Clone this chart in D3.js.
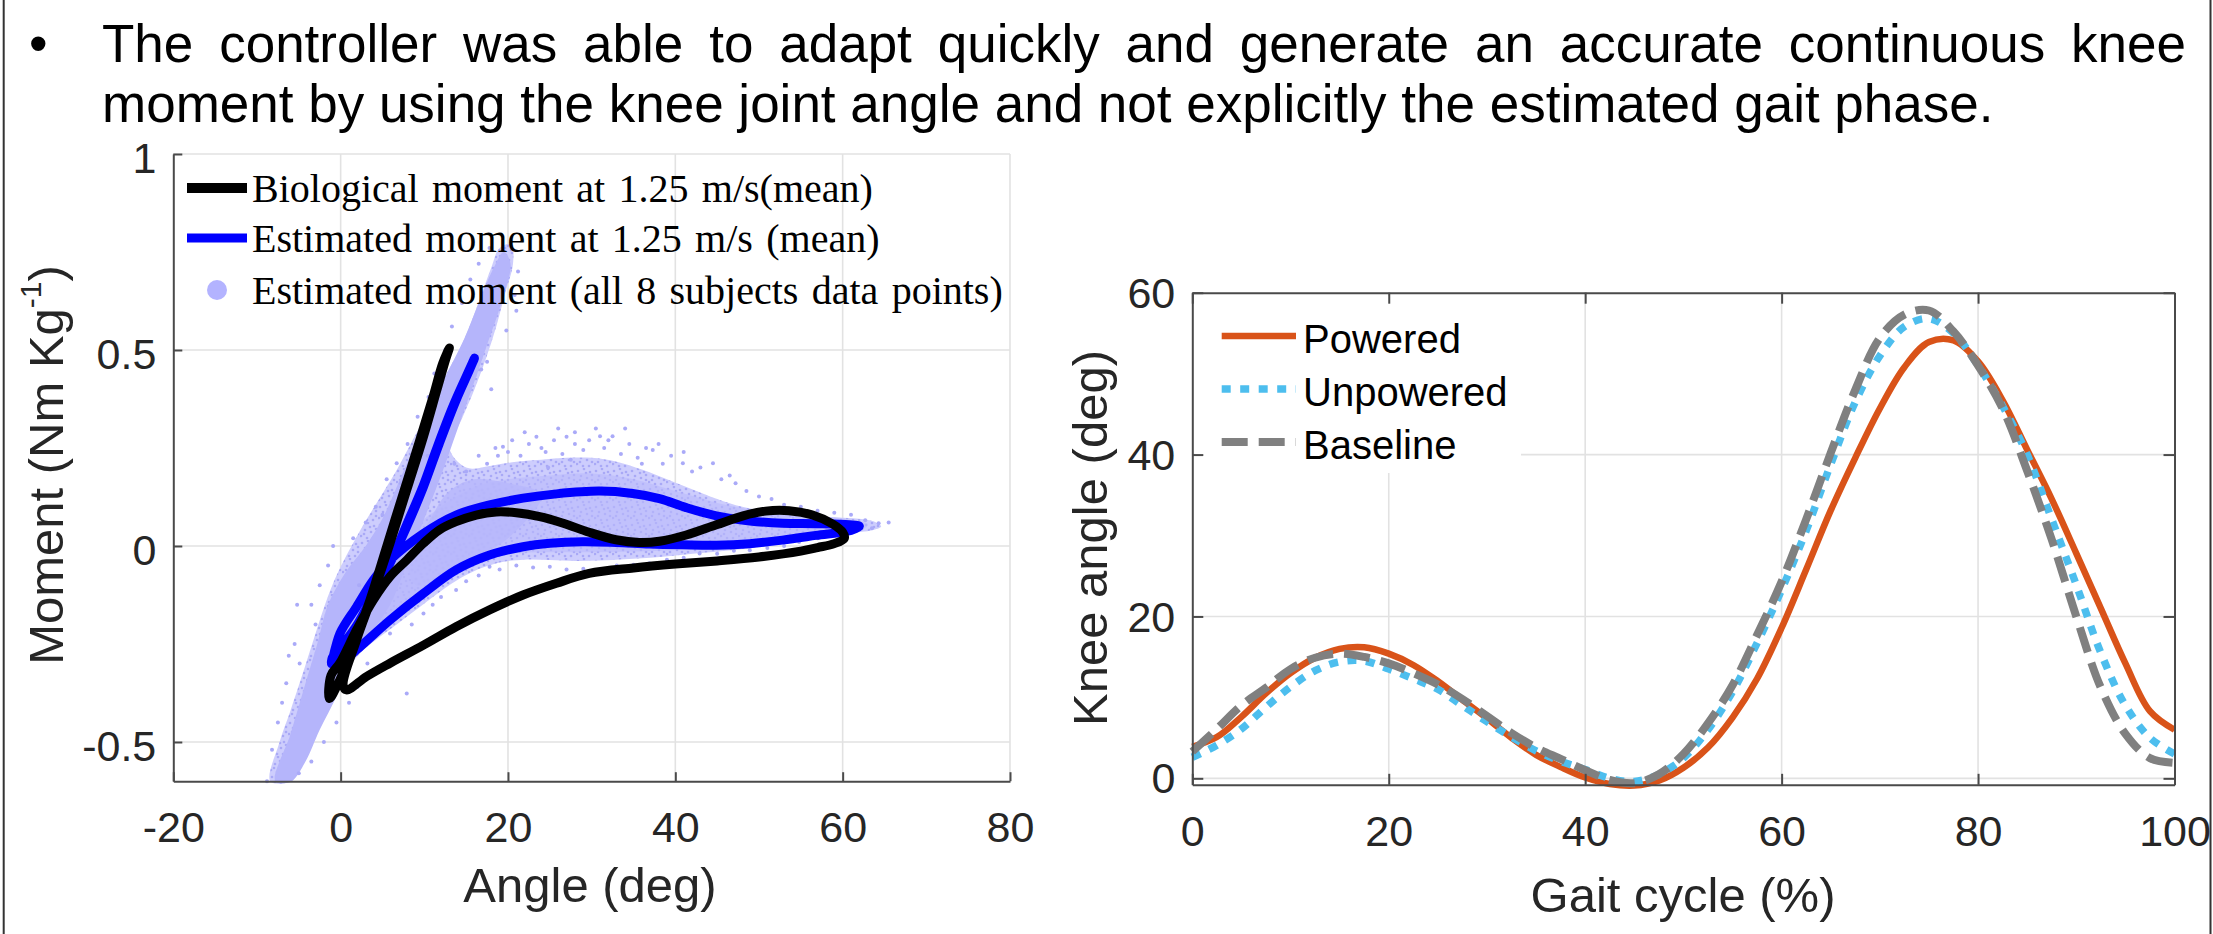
<!DOCTYPE html>
<html><head><meta charset="utf-8">
<script src="https://cdn.jsdelivr.net/npm/d3@7"></script>
<style>html,body{margin:0;padding:0;background:#fff;overflow:hidden}</style>
</head><body><svg id="c" width="2213" height="934" xmlns="http://www.w3.org/2000/svg"></svg>
<script>
// ---------------- text ----------------
const bodyLine1 = "The controller was able to adapt quickly and generate an accurate continuous knee";
const bodyLine2 = "moment by using the knee joint angle and not explicitly the estimated gait phase.";

// ---------------- left chart: moment vs angle ----------------
const momentXTicks = [-20, 0, 20, 40, 60, 80];
const momentYTicks = [-0.5, 0, 0.5, 1];
const momentXLabel = "Angle (deg)";
const momentYLabel = "Moment (Nm Kg";
const momentYLabelSup = "-1";
const momentLegend = ["Biological moment at 1.25 m/s(mean)", "Estimated moment at 1.25 m/s (mean)", "Estimated moment (all 8 subjects data points)"];

// biological mean loop (angle deg, moment Nm/kg)
const bioAngle = [0.3,1.9,3.9,5.9,7.9,9.9,11.5,12.6,13.0,12.2,11.05,9.46,7.47,5.49,3.5,1.5,-0.1,-1.35,-1.15,-0.1,1.9,3.9,5.9,7.9,9.9,11.8,13.8,16.2,18.6,21.0,23.8,26.6,29.7,32.9,35.7,38.1,41.3,44.9,48.1,50.8,53.6,56.4,58.8,60.0,60.2,59.0,57.0,55.0,50.0,45.0,40.0,35.0,29.7,25.8,21.8,17.8,13.8,9.9,5.9,3.1,0.7];
const bioMoment = [-0.355,-0.24,-0.121,0.007,0.143,0.279,0.398,0.479,0.505,0.466,0.381,0.27,0.134,-0.002,-0.138,-0.257,-0.342,-0.389,-0.33,-0.299,-0.214,-0.138,-0.078,-0.036,0.007,0.041,0.062,0.079,0.087,0.085,0.075,0.058,0.035,0.016,0.009,0.012,0.028,0.054,0.077,0.089,0.09,0.079,0.056,0.035,0.02,0.006,-0.004,-0.013,-0.028,-0.038,-0.046,-0.056,-0.070,-0.095,-0.125,-0.163,-0.206,-0.253,-0.299,-0.333,-0.367];

// estimated mean loop
const estAngle = [-0.1,1.9,3.9,5.9,7.9,9.9,11.8,13.8,15.4,16.0,15.0,13.4,11.5,9.8,8.0,6.0,4.0,2.0,0.3,-1.0,-1.1,-0.08,1.9,3.9,5.9,9.9,13.8,17.8,21.8,25.8,30.9,34.9,38.1,41.3,44.9,48.9,52.8,56.8,60.8,62.0,61.0,56.8,52.8,48.9,44.9,40.9,36.9,32.9,28.9,25.0,21.8,17.8,13.8,9.9,5.9,1.9];
const estMoment = [-0.3,-0.214,-0.129,-0.044,0.049,0.151,0.262,0.372,0.449,0.479,0.432,0.355,0.25,0.15,0.06,-0.04,-0.12,-0.2,-0.25,-0.285,-0.3,-0.223,-0.155,-0.087,-0.036,0.032,0.079,0.105,0.122,0.133,0.14,0.134,0.121,0.098,0.077,0.064,0.058,0.057,0.054,0.05,0.04,0.027,0.015,0.006,0.002,0.003,0.005,0.009,0.011,0.007,-0.002,-0.023,-0.061,-0.121,-0.189,-0.265];

// outline of the region covered by all-subject points
const cloudAngle = [-8.4,-7.3,-6.0,-4.6,-3.4,-2.2,-0.8,0.8,2.6,4.6,6.6,8.6,10.6,12.4,14.2,15.6,16.8,18.0,19.0,20.4,20.6,19.6,18.6,17.4,16.0,14.4,13.0,15.0,18,21,24,27,30,33,36,39,42,45,48,51,54,57,60,62.5,64,64.6,63.5,61,58,55,52,49,46,43,40,37,34,31,28,25,22,19.5,17,14.5,12,9.5,7,4.5,2.5,1.0,-0.2,-1.2,-2.4,-3.8,-5.2,-5.8];
const cloudMoment = [-0.6,-0.5,-0.42,-0.33,-0.25,-0.17,-0.09,-0.02,0.05,0.12,0.19,0.27,0.35,0.43,0.5,0.57,0.64,0.71,0.76,0.77,0.72,0.64,0.56,0.48,0.40,0.32,0.25,0.2,0.205,0.215,0.22,0.225,0.225,0.215,0.195,0.17,0.145,0.12,0.1,0.088,0.08,0.075,0.072,0.068,0.06,0.05,0.04,0.033,0.022,0.012,0.002,-0.006,-0.012,-0.018,-0.024,-0.03,-0.034,-0.037,-0.038,-0.036,-0.035,-0.04,-0.055,-0.08,-0.115,-0.155,-0.195,-0.235,-0.27,-0.31,-0.36,-0.41,-0.46,-0.52,-0.58,-0.6];
// densest (stance) band of points
const coreAngle = [-7.8,-6.0,-4.2,-2.8,-1.5,0.5,3.0,5.0,7.5,10.0,12.5,14.8,16.5,18.3,19.5,20.3,19.2,17.6,16.0,14.0,12.0,10.0,8.0,5.9,3.0,1.1,-0.5,-2.5,-4.2,-5.9];
const coreMoment = [-0.6,-0.48,-0.35,-0.25,-0.15,-0.07,0.0,0.07,0.19,0.31,0.43,0.53,0.62,0.71,0.75,0.72,0.62,0.52,0.42,0.3,0.18,0.07,-0.04,-0.15,-0.24,-0.3,-0.384,-0.469,-0.55,-0.6];
// dense middle of the swing-phase points
const midAngle = [8,12,16,20,25,30,35,40,45,50,55,60,63,62,58,54,50,45,40,35,30,25,20,16,12,9];
const midMoment = [0.02,0.1,0.15,0.17,0.18,0.185,0.17,0.14,0.11,0.09,0.078,0.07,0.055,0.038,0.025,0.014,0.005,-0.004,-0.01,-0.014,-0.016,-0.016,-0.02,-0.04,-0.075,-0.1];
// dense patch right of the stance band
const patchAngle = [3,6,9,11,13,16,20,24,20,16,12,9,6,4];
const patchMoment = [-0.2,-0.1,0.0,0.08,0.14,0.17,0.16,0.13,0.02,-0.03,-0.08,-0.13,-0.18,-0.24];

// sparse individual points around the dense region
const sparseAngle = [15,16.5,17.5,18.5,19.4,20.5,21.5,22.5,23.4,24.5,25.5,26.5,27,28,29,29.7,30.5,31.5,32.5,33.5,34.5,35.5,36.5,37.3,38.5,39.5,40.9,42,43,44.5,45.5,46.5,47.2,48.5,50,51.5,53,55,57,59,61,62.7,64.3,65.5,
  6.7,5.5,4.2,3,1.5,-0.9,-1.5,-2.5,-3.5,-5.2,-4.9,-5.5,-6.5,-7.5,-8.2,-8.8,8,9.2,10.5,11.2,12.5,13.3,14.5,15.5,16.5,17.8,
  17.5,16.8,18,21.2,20.8,19.8,21,
  2,3.2,4,5.9,7.9,8.5,9.9,11,12,13.8,15,16.5,17.8,19,21,23,25,27,29,30.9,33,35,36.9,39,41,42.9,45,47,48.9,51,53,54.8,57,58.8,61,63.5,1,-0.5,-2,-3.5,-5,
  20,24,28,32,36,22,26,34,38,41,31,27.5,24.8,18.8,13.6,10.4,7.2,5,-3,-6.2,-7,0.2,2.2];
const sparseMoment = [0.19,0.23,0.21,0.25,0.253,0.27,0.23,0.26,0.279,0.24,0.27,0.235,0.279,0.26,0.245,0.27,0.30,0.25,0.28,0.235,0.26,0.225,0.25,0.245,0.21,0.23,0.211,0.19,0.2,0.211,0.17,0.18,0.16,0.14,0.126,0.12,0.105,0.1,0.09,0.085,0.08,0.066,0.058,0.06,
  0.211,0.17,0.1,0.06,0.02,0.0,-0.05,-0.1,-0.15,-0.15,-0.3,-0.25,-0.35,-0.45,-0.52,-0.6,0.26,0.33,0.38,0.44,0.5,0.56,0.62,0.68,0.72,0.76,
  0.47,0.45,0.4,0.7,0.64,0.55,0.6,
  -0.36,-0.3,-0.32,-0.223,-0.376,-0.2,-0.172,-0.15,-0.13,-0.112,-0.09,-0.075,-0.053,-0.06,-0.05,-0.055,-0.053,-0.06,-0.058,-0.061,-0.05,-0.048,-0.044,-0.035,-0.03,-0.019,-0.02,-0.012,-0.011,-0.005,0.0,0.01,0.02,0.04,0.04,0.045,-0.4,-0.45,-0.5,-0.55,-0.58,
  0.24,0.25,0.29,0.27,0.21,0.29,0.3,0.3,0.26,0.24,0.28,0.22,0.2,0.23,0.21,0.23,0.16,0.08,-0.2,-0.28,-0.4,-0.2,-0.1];

// ---------------- right chart: knee angle over gait cycle ----------------
const gaitTicksX = [0, 20, 40, 60, 80, 100];
const gaitTicksY = [0, 20, 40, 60];
const gaitXLabel = "Gait cycle (%)";
const gaitYLabel = "Knee angle (deg)";
const gaitSeriesNames = ["Powered", "Unpowered", "Baseline"];
const gaitPct = [0,2.5,5,7.5,10,12.5,15,17.5,20,22.5,25,27.5,30,32.5,35,37.5,40,42.5,45,47.5,50,52.5,55,57.5,60,62.5,65,67.5,70,72.5,75,77.5,80,82.5,85,87.5,90,92.5,95,97.5,100];
const powered = [3.9,5.1,7.6,10.5,13.0,14.9,16.0,16.2,15.4,14.0,12.0,9.7,7.4,5.0,2.9,1.4,0.1,-0.7,-0.9,-0.3,1.3,3.8,7.5,12.3,18.6,25.8,33.1,39.6,45.7,50.8,53.9,54.1,51.5,46.7,40.6,34.5,27.8,21.0,14.2,8.3,6.0];
const unpowered = [2.6,4.1,6.1,8.8,11.3,13.3,14.4,14.5,13.5,12.3,11.0,9.0,7.0,5.1,3.4,2.1,1.1,0.0,-0.4,0.5,2.5,6.0,10.7,16.7,23.3,30.6,38.8,46.5,52.2,55.8,56.8,55.0,51.0,46.0,40.0,32.0,23.9,15.5,9.0,5.0,3.0];
const baseline = [3.3,6.1,9.0,11.2,13.5,14.9,15.4,15.0,14.2,13.0,11.6,9.8,7.7,5.6,3.8,2.4,1.0,-0.2,-0.6,0.5,3.0,6.8,11.5,17.7,24.3,32.0,40.2,48.0,54.4,57.3,57.8,55.2,51.0,45.7,38.0,29.5,20.0,11.2,5.5,2.5,1.9];

// ================= drawing =================
const svg = d3.select("#c");
const SANS = "'Liberation Sans', Arial, sans-serif";
const SERIF = "'Liberation Serif', 'Times New Roman', serif";
const AX = "#4a4a4a", TXT = "#262626", GRID = "#e2e2e2";

// speckle texture for the point cloud
const defs = svg.append("defs");
const pat = defs.append("pattern").attr("id", "speck").attr("patternUnits", "userSpaceOnUse").attr("width", 18).attr("height", 18);
pat.append("rect").attr("width", 18).attr("height", 18).attr("fill", "#cdcdfd");
[[2,3],[8,1],[14,4],[5,8],[11,10],[16,12],[1,14],[7,16],[13,16],[16,7],[4,12],[10,5]].forEach(p =>
  pat.append("circle").attr("cx", p[0]).attr("cy", p[1]).attr("r", 1.3).attr("fill", "#a9a9f6"));

// frame lines
svg.append("line").attr("x1",3.7).attr("x2",3.7).attr("y1",0).attr("y2",934).attr("stroke","#333").attr("stroke-width",2);
svg.append("line").attr("x1",2210.5).attr("x2",2210.5).attr("y1",0).attr("y2",934).attr("stroke","#333").attr("stroke-width",2);

// body text
const body = svg.append("g").attr("font-family", SANS).attr("font-size", 53).attr("fill", "#000");
body.append("text").attr("x", 29).attr("y", 62).text("\u2022");
(function justify(text, x0, x1, y) {
  const words = text.split(" ");
  const nodes = words.map(w => body.append("text").attr("y", y).text(w));
  const widths = nodes.map(n => n.node().getComputedTextLength());
  const gap = (x1 - x0 - d3.sum(widths)) / (words.length - 1);
  let x = x0;
  nodes.forEach((n, i) => { n.attr("x", x); x += widths[i] + gap; });
})(bodyLine1, 102, 2186, 62);
body.append("text").attr("x", 102).attr("y", 121.5).text(bodyLine2);

// ---------- left chart ----------
const xL = d3.scaleLinear().domain([-20, 80]).range([173.3, 1010]);
const yL = d3.scaleLinear().domain([-0.6, 1]).range([781.2, 154]);
const gL = svg.append("g");
// grid
gL.append("g").selectAll("line").data(momentXTicks.slice(1)).join("line")
  .attr("x1", d => xL(d)).attr("x2", d => xL(d)).attr("y1", yL(-0.6)).attr("y2", yL(1))
  .attr("stroke", GRID).attr("stroke-width", 1.6);
gL.append("g").selectAll("line").data(momentYTicks).join("line")
  .attr("x1", xL(-20)).attr("x2", xL(80)).attr("y1", d => yL(d)).attr("y2", d => yL(d))
  .attr("stroke", GRID).attr("stroke-width", 1.6);

// all-subject data cloud
const areaLine = d3.line().x(d => xL(d[0])).y(d => yL(d[1])).curve(d3.curveCatmullRomClosed.alpha(0.5));
gL.append("path").datum(cloudAngle.map((a, i) => [a, cloudMoment[i]])).attr("d", areaLine).attr("fill", "url(#speck)");
gL.append("path").datum(midAngle.map((a, i) => [a, midMoment[i]])).attr("d", areaLine).attr("fill", "#b9b9fb").attr("opacity", 0.6);
gL.append("path").datum(patchAngle.map((a, i) => [a, patchMoment[i]])).attr("d", areaLine).attr("fill", "#b7b7fb").attr("opacity", 0.8);
gL.append("path").datum(coreAngle.map((a, i) => [a, coreMoment[i]])).attr("d", areaLine).attr("fill", "#b5b5fb");
gL.append("g").selectAll("circle").data(sparseAngle.map((a, i) => [a, sparseMoment[i]])).join("circle")
  .attr("cx", d => xL(d[0])).attr("cy", d => yL(d[1])).attr("r", 2).attr("fill", "#aaaaf8");

// mean loops
const loopLine = d3.line().x(d => xL(d[0])).y(d => yL(d[1])).curve(d3.curveCatmullRomClosed.alpha(0.5));
gL.append("path").datum(estAngle.map((a, i) => [a, estMoment[i]]))
  .attr("d", loopLine).attr("fill", "none").attr("stroke", "#0000ff").attr("stroke-width", 9)
  .attr("stroke-linejoin", "round").attr("stroke-linecap", "round");
gL.append("path").datum(bioAngle.map((a, i) => [a, bioMoment[i]]))
  .attr("d", loopLine).attr("fill", "none").attr("stroke", "#000").attr("stroke-width", 9)
  .attr("stroke-linejoin", "round").attr("stroke-linecap", "round");

// axes
const axL = gL.append("g").attr("transform", `translate(${xL(-20)},0)`)
  .call(d3.axisLeft(yL).tickValues(momentYTicks).tickSizeInner(-9).tickSizeOuter(0).tickPadding(17).tickFormat(d => String(d)));
const axB = gL.append("g").attr("transform", `translate(0,${yL(-0.6)})`)
  .call(d3.axisBottom(xL).tickValues(momentXTicks).tickSizeInner(-9).tickSizeOuter(0).tickPadding(0).tickFormat(d => String(d)));
[axL, axB].forEach(a => {
  a.attr("font-family", SANS).attr("font-size", 43);
  a.select(".domain").attr("stroke", AX).attr("stroke-width", 2);
  a.selectAll(".tick line").attr("stroke", AX).attr("stroke-width", 2);
  a.selectAll(".tick text").attr("fill", TXT);
});
axB.selectAll(".tick text").attr("dy", null).attr("y", 61);
axL.selectAll(".tick text").attr("dy", "0.42em");

// labels
gL.append("text").attr("x", 590).attr("y", 902).attr("text-anchor", "middle")
  .attr("font-family", SANS).attr("font-size", 49).attr("fill", TXT).text(momentXLabel);
const yLab = gL.append("text").attr("transform", "translate(63,465) rotate(-90)").attr("text-anchor", "middle")
  .attr("font-family", SANS).attr("font-size", 49).attr("fill", TXT);
yLab.append("tspan").text(momentYLabel);
yLab.append("tspan").attr("dy", -22).attr("font-size", 30).text(momentYLabelSup);
yLab.append("tspan").attr("dy", 22).text(")");

// legend
const legL = gL.append("g").attr("font-family", SERIF).attr("font-size", 40).attr("fill", "#000");
const legRows = [188, 238, 290];
legL.append("line").attr("x1", 187).attr("x2", 247).attr("y1", legRows[0]).attr("y2", legRows[0]).attr("stroke", "#000").attr("stroke-width", 10);
legL.append("line").attr("x1", 187).attr("x2", 247).attr("y1", legRows[1]).attr("y2", legRows[1]).attr("stroke", "#0000ff").attr("stroke-width", 9);
legL.append("circle").attr("cx", 217).attr("cy", legRows[2]).attr("r", 10).attr("fill", "#b3b3ff");
momentLegend.forEach((t, i) => legL.append("text").attr("x", 252).attr("y", legRows[i] + 14).attr("word-spacing", 3.3).text(t));

// ---------- right chart ----------
const xR = d3.scaleLinear().domain([0, 100]).range([1192.3, 2174.5]);
const yR = d3.scaleLinear().domain([-0.8, 60]).range([784.8, 292.7]);
const gR = svg.append("g");
gR.append("g").selectAll("line").data(gaitTicksX.slice(1, -1)).join("line")
  .attr("x1", d => xR(d)).attr("x2", d => xR(d)).attr("y1", yR(-0.8)).attr("y2", yR(60))
  .attr("stroke", GRID).attr("stroke-width", 1.6);
gR.append("g").selectAll("line").data(gaitTicksY.slice(0, -1)).join("line")
  .attr("x1", xR(0)).attr("x2", xR(100)).attr("y1", d => yR(d)).attr("y2", d => yR(d))
  .attr("stroke", GRID).attr("stroke-width", 1.6);

// legend background
gR.append("rect").attr("x", 1195).attr("y", 296).attr("width", 326).attr("height", 177).attr("fill", "#fff");

const gaitLine = d3.line().x((d, i) => xR(gaitPct[i])).y(d => yR(d)).curve(d3.curveCatmullRom.alpha(0.5));
const styles = [
  {data: powered, color: "#D95319", w: 6.5, dash: null},
  {data: unpowered, color: "#4DBEEE", w: 7.5, dash: "9,9.5"},
  {data: baseline, color: "#808080", w: 8, dash: "26,11"}
];
styles.forEach(s => {
  gR.append("path").datum(s.data).attr("d", gaitLine).attr("fill", "none")
    .attr("stroke", s.color).attr("stroke-width", s.w).attr("stroke-dasharray", s.dash);
});

// legend
const legR = gR.append("g").attr("font-family", SANS).attr("font-size", 40).attr("fill", "#000");
const legRRows = [336, 389, 442];
styles.forEach((s, i) => {
  legR.append("line").attr("x1", 1221.7).attr("x2", 1296).attr("y1", legRRows[i]).attr("y2", legRRows[i])
    .attr("stroke", s.color).attr("stroke-width", s.w).attr("stroke-dasharray", s.dash);
  legR.append("text").attr("x", 1303).attr("y", legRRows[i] + 17).text(gaitSeriesNames[i]);
});

// axes (box with inward ticks)
const rAxes = [
  gR.append("g").attr("transform", `translate(0,${yR(-0.8)})`).call(d3.axisBottom(xR).tickValues(gaitTicksX).tickSizeInner(-11).tickSizeOuter(0).tickPadding(0).tickFormat(d => String(d))),
  gR.append("g").attr("transform", `translate(0,${yR(60)})`).call(d3.axisTop(xR).tickValues(gaitTicksX).tickSizeInner(-11).tickSizeOuter(0).tickFormat("")),
  gR.append("g").attr("transform", `translate(${xR(0)},0)`).call(d3.axisLeft(yR).tickValues(gaitTicksY).tickSizeInner(-11).tickSizeOuter(0).tickPadding(17).tickFormat(d => String(d))),
  gR.append("g").attr("transform", `translate(${xR(100)},0)`).call(d3.axisRight(yR).tickValues(gaitTicksY).tickSizeInner(-11).tickSizeOuter(0).tickFormat(""))
];
rAxes.forEach(a => {
  a.attr("font-family", SANS).attr("font-size", 43);
  a.select(".domain").attr("stroke", AX).attr("stroke-width", 2);
  a.selectAll(".tick line").attr("stroke", AX).attr("stroke-width", 2);
  a.selectAll(".tick text").attr("fill", TXT);
});
rAxes[0].selectAll(".tick text").attr("dy", null).attr("y", 61);
rAxes[2].selectAll(".tick text").attr("dy", "0.34em");

gR.append("text").attr("x", 1683).attr("y", 912).attr("text-anchor", "middle")
  .attr("font-family", SANS).attr("font-size", 49).attr("fill", TXT).text(gaitXLabel);
gR.append("text").attr("transform", "translate(1107,538) rotate(-90)").attr("text-anchor", "middle")
  .attr("font-family", SANS).attr("font-size", 49).attr("fill", TXT).text(gaitYLabel);
</script></body></html>
